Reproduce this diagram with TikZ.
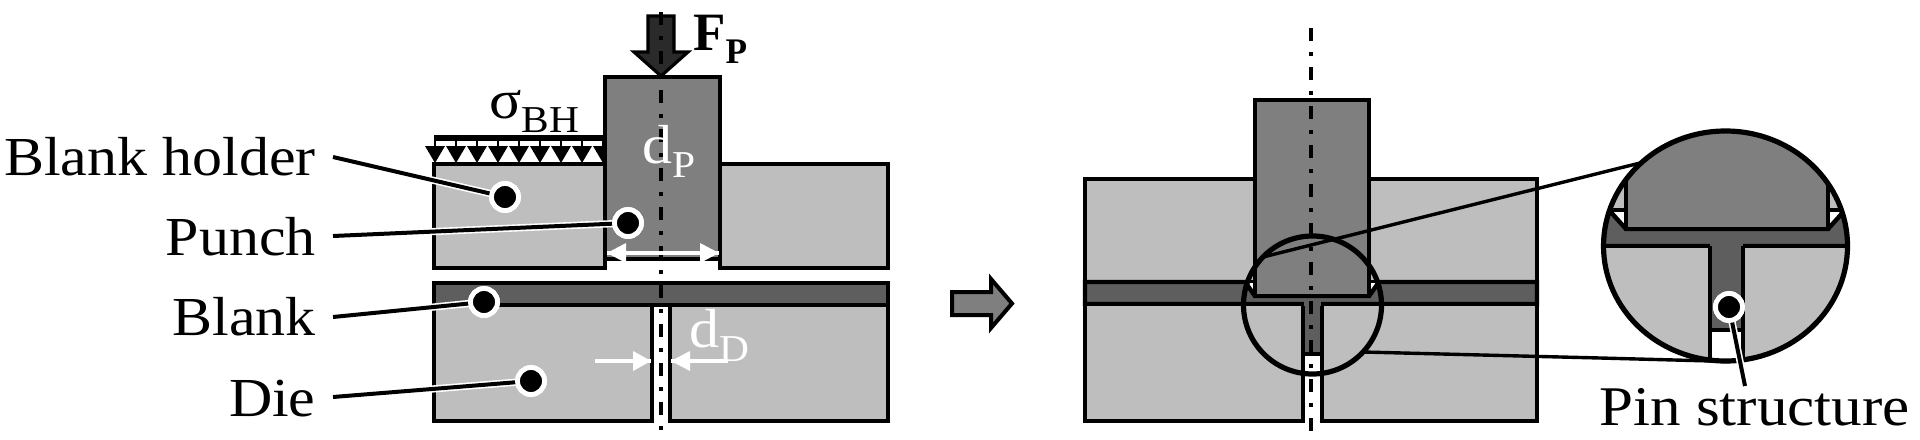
\documentclass[tikz,border=0pt]{standalone}
\usepackage{fontspec}
\usetikzlibrary{shapes.geometric,calc}
\setmainfont[FakeStretch=1.09]{Liberation Serif}
\newfontfamily\boldtxt[FakeStretch=0.98]{Liberation Serif}
\definecolor{holdgray}{HTML}{BEBEBE}
\definecolor{punchgray}{HTML}{7F7F7F}
\definecolor{blankgray}{HTML}{5E5E5E}
\definecolor{forcegray}{HTML}{2A2A2A}
\newcommand{\lblfont}{\fontsize{27.5}{30}\selectfont}
\newcommand{\subfont}{\fontsize{19}{22}\selectfont}
\newcommand{\subtxt}[1]{\raisebox{-7pt}{\subfont #1}}
\tikzset{
  part/.style={draw=black,line width=2.2pt,line join=miter},
  holderpart/.style={part,fill=holdgray},
  punchpart/.style={part,fill=punchgray},
  blankpart/.style={part,fill=blankgray},
  axisline/.style={draw=black,line width=2pt,dash pattern=on 6.5pt off 5.5pt on 2pt off 5.5pt},
  leaderhalo/.style={draw=white,line width=3.6pt},
  leader/.style={draw=black,line width=2pt},
  thinleader/.style={draw=black,line width=1.7pt},
  dotnode/.style={circle,fill=black,draw=white,line width=2.4pt,minimum size=13.5pt,inner sep=0pt},
  lbl/.style={font=\lblfont,anchor=base east,inner sep=0pt,text=black},
  freetxt/.style={font=\lblfont,anchor=base west,inner sep=0pt},
}
\begin{document}
\begin{tikzpicture}[x=0.5pt,y=-0.5pt]
\useasboundingbox (0,0) rectangle (1920,439);
% ---------- left figure ----------
\draw[holderpart] (434,164) rectangle (605,268);
\draw[holderpart] (720,164) rectangle (888,268);
\draw[line width=2.6pt] (434,138) -- (605,138);
\foreach \k in {0,...,8}{
  \fill (435+21*\k,146) -- (445+21*\k,146) -- (435+21*\k,163) -- (425+21*\k,146) -- cycle;
  \draw[line width=1.2pt] (435+21*\k,138) -- (435+21*\k,148);
}
\draw[punchpart] (605,268) -- (605,77) -- (720,77) -- (720,259) -- (605,259);
\draw[blankpart] (434,283) rectangle (888,305);
\draw[holderpart] (434,305) rectangle (652,421);
\draw[holderpart] (888,305) rectangle (670,421);
\draw[draw=black,fill=forcegray,line width=1.6pt,line join=miter] (648,16) -- (674,16) -- (674,52) -- (688,52) -- (661,76) -- (634,52) -- (648,52) -- cycle;
\coordinate (axisAtop) at (661,12);
\coordinate (axisAbot) at (661,431);
\draw[axisline] (axisAtop) -- (axisAbot);
% dimension arrows
\coordinate (dpL) at (607,253);
\coordinate (dpR) at (719,253);
\draw[white,line width=2pt] (dpL) -- (dpR);
\fill[white] (dpL) -- (626,243) -- (626,263) -- cycle;
\fill[white] (dpR) -- (700,243) -- (700,263) -- cycle;
\coordinate (ddLtip) at (651,361);
\coordinate (ddLtail) at (595,361);
\coordinate (ddRtip) at (671,361);
\coordinate (ddRtail) at (728,361);
\draw[white,line width=2pt] (ddLtail) -- (ddLtip);
\draw[white,line width=2pt] (ddRtail) -- (ddRtip);
\fill[white] (ddLtip) -- (633,351) -- (633,371) -- cycle;
\fill[white] (ddRtip) -- (690,351) -- (690,371) -- cycle;
% labels in figure
\node[freetxt] (sigmatxt) at (489,118) {σ\subtxt{BH}};
\node[freetxt,font=\boldtxt\fontsize{27}{30}\selectfont\bfseries] (fptxt) at (693,50) {F\raisebox{-6.5pt}{\fontsize{18}{22}\selectfont\bfseries P}};
\node[freetxt,text=white] (dptxt) at (642,163) {d\subtxt{P}};
\node[freetxt,text=white] (ddtxt) at (689,347) {d\subtxt{D}};
% leaders and labels
\node[lbl] (lBH) at (316,175) {Blank holder};
\node[lbl] (lP) at (316,255) {Punch};
\node[lbl] (lB) at (316,335) {Blank};
\node[lbl] (lD) at (316,416) {Die};
\coordinate (sBH) at (333,157);
\coordinate (sP) at (333,236);
\coordinate (sB) at (333,317);
\coordinate (sD) at (333,397);
\node[dotnode] (dBH) at (505,197) {};
\node[dotnode] (dP) at (628,223) {};
\node[dotnode] (dB) at (484,302) {};
\node[dotnode] (dD) at (531,381) {};
\foreach \s/\d in {sBH/dBH,sP/dP,sB/dB,sD/dD}{
  \draw[leaderhalo] (\s) -- (\d.center);
  \draw[leader] (\s) -- (\d.center);
}
\node[dotnode] at (dBH) {};
\node[dotnode] at (dP) {};
\node[dotnode] at (dB) {};
\node[dotnode] at (dD) {};
% transition arrow
\draw[draw=black,fill=punchgray,line width=2pt,line join=miter] (952,292) -- (991,292) -- (991,279) -- (1012,303.5) -- (991,328) -- (991,315) -- (952,315) -- cycle;
% ---------- right figure ----------
\draw[holderpart] (1085,179) rectangle (1255,282);
\draw[holderpart] (1369,179) rectangle (1537,282);
\fill[white] (1246,283) -- (1255,283) -- (1255,296) -- cycle;
\fill[white] (1378,283) -- (1369,283) -- (1369,296) -- cycle;
\draw[blankpart] (1085,282) -- (1245,282) -- (1255,296) -- (1369,296) -- (1379,282) -- (1537,282) -- (1537,304) -- (1085,304) -- cycle;
\draw[holderpart] (1085,304) rectangle (1303,421);
\draw[holderpart] (1537,304) rectangle (1322,421);
\fill[blankgray] (1303,304) rectangle (1322,354);
\draw[line width=2pt] (1303,354) -- (1322,354);
\draw[line width=2.2pt] (1303,304) -- (1303,421) (1322,304) -- (1322,421);
\fill[blankgray] (1304,300) rectangle (1321,306);
\draw[punchpart] (1255,296) -- (1255,100) -- (1369,100) -- (1369,296) -- cycle;
\coordinate (axisBtop) at (1311,28);
\coordinate (axisBbot) at (1311,431);
\draw[axisline] (axisBtop) -- (axisBbot);
\node[circle,draw=black,line width=2.6pt,minimum size=69pt,inner sep=0pt] (zoomsrc) at (1312.5,305) {};
% ---------- detail ----------
\begin{scope}
\clip (1725.5,246) ellipse [x radius=122,y radius=115];
\fill[holdgray] (1600,131) rectangle (1850,210);
\draw[line width=2pt] (1600,210) -- (1850,210);
\fill[white] (1612,212) -- (1626,212) -- (1626,228) -- cycle;
\fill[white] (1842,212) -- (1828,212) -- (1828,228) -- cycle;
\draw[blankpart] (1600,205) -- (1608,209) -- (1626,229) -- (1828,229) -- (1846,209) -- (1855,205) -- (1855,246) -- (1600,246) -- cycle;
\fill[holdgray] (1600,246) rectangle (1710,365);
\fill[holdgray] (1743,246) rectangle (1855,365);
\draw[line width=2pt] (1600,246) -- (1710,246) (1743,246) -- (1855,246);
\fill[blankgray] (1710,240) rectangle (1743,330);
\draw[punchpart] (1626,120) -- (1626,229) -- (1828,229) -- (1828,120) -- cycle;
\draw[line width=2.2pt] (1710,246) -- (1710,365) (1743,246) -- (1743,365);
\draw[line width=1.6pt] (1710,330) -- (1743,330);
\end{scope}
\node[ellipse,draw=black,line width=2.6pt,minimum width=122pt,minimum height=115pt,inner sep=0pt] (zoomdst) at (1725.5,246) {};
\coordinate (topS) at (1263,257);
\coordinate (topE) at (1640,163);
\draw[thinleader] (topS) -- (topE);
\coordinate (botS) at (1363,352);
\coordinate (botM) at (1600,358);
\coordinate (botE) at (1730,361.5);
\draw[thinleader] (botS) -- (botM) -- (botE);
% pin leader
\node[lbl,anchor=base west,font=\fontsize{28}{30}\selectfont] (lPin) at (1599,425) {Pin structure};
\node[dotnode] (dPin) at (1729,307) {};
\coordinate (sPin) at (1745,386);
\draw[leaderhalo] (dPin.center) -- ($(dPin.center)!0.72!(sPin)$);
\draw[leader] (dPin.center) -- (sPin);
\node[dotnode] at (dPin) {};
\end{tikzpicture}
\end{document}
